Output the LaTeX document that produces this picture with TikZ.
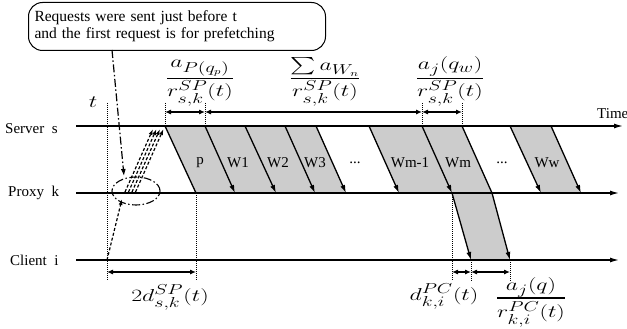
\documentclass[tikz,border=0pt]{standalone}
\usepackage{amsmath}
\usepackage{graphicx}
\usepackage{fontspec}
\setmainfont{Liberation Serif}
\usetikzlibrary{arrows.meta,shapes.geometric}
\newcommand\mytdots{...}
\newcommand\mywide[1]{\scalebox{1.38}[1]{#1}}
\begin{document}
\begin{tikzpicture}[x=1pt,y=-1pt,
  tl/.style={line width=1.3pt,-{Latex[length=9pt,width=5pt]}},
  ar/.style={line width=1.3pt,-{Latex[length=8pt,width=5pt]}},
  edg/.style={line width=1.3pt},
  dim/.style={line width=1.1pt,{Latex[length=6pt,width=5pt]}-{Latex[length=6pt,width=5pt]}},
  vdot/.style={densely dotted,line width=1pt},
  shd/.style={fill=black!20},
  lab/.style={font=\fontsize{15}{17}\selectfont,inner sep=0pt},
  mth/.style={font=\fontsize{19}{23}\selectfont,inner sep=0pt},
  dd/.style={line width=1.2pt,dash pattern=on 8pt off 2.5pt on 1.5pt off 2.5pt},
  req/.style={line width=1.2pt,dash pattern=on 3pt off 2pt,-{Latex[length=6pt,width=4pt]}}]
\useasboundingbox (0,0) rectangle (627,329);

% time lines
\coordinate (s0) at (76,126); \coordinate (s1) at (623,126);
\coordinate (p0) at (76,193); \coordinate (p1) at (619,193);
\coordinate (c0) at (76,260); \coordinate (c1) at (619,260);

% shaded parallelograms
\coordinate (A1) at (165,126); \coordinate (A2) at (316,126);
\coordinate (A3) at (346,193); \coordinate (A4) at (196,193);
\coordinate (B1) at (369,126); \coordinate (B2) at (462,126);
\coordinate (B3) at (492,193); \coordinate (B4) at (399,193);
\coordinate (L1) at (452,193); \coordinate (L2) at (492,193);
\coordinate (L3) at (510,260); \coordinate (L4) at (471,260);
\coordinate (C1) at (510,126); \coordinate (C2) at (551,126);
\coordinate (C3) at (581,193); \coordinate (C4) at (541,193);
\fill[shd] (A1) -- (A2) -- (A3) -- (A4) -- cycle;
\fill[shd] (B1) -- (B2) -- (B3) -- (B4) -- cycle;
\fill[shd] (L1) -- (L2) -- (L3) -- (L4) -- cycle;
\fill[shd] (C1) -- (C2) -- (C3) -- (C4) -- cycle;

\draw[tl] (s0) -- (s1);
\draw[tl] (p0) -- (p1);
\draw[tl] (c0) -- (c1);

% slanted transfer edges
\draw[edg] (A1) -- (A4);
\foreach \i/\a/\b in {1/205/235,2/245/276,3/285/315,4/316/346,5/369/399,6/422/452,7/510/541,8/551/581}{
  \coordinate (u\i) at (\a,126); \coordinate (v\i) at (\b,193);
  \draw[ar] (u\i) -- (v\i);
}
\draw[edg] (B2) -- (B3);
\draw[ar] (L1) -- (L4);
\draw[ar] (L2) -- (L3);

% labels on lines
\node[lab,anchor=west] (srv) at (5,129) {Server\ \ s};
\node[lab,anchor=west] (prx) at (8,193) {Proxy\ \ k};
\node[lab,anchor=west] (cli) at (10,260) {Client\ \ i};
\node[lab,anchor=base west] (tim) at (597,118) {Time};

% segment labels
\foreach \n/\x/\t in {np/200/p,nw1/238/W1,nw2/278/W2,nw3/315/W3,nd1/355/\mytdots,nwm1/410/Wm-1,nwm/458/Wm,nd2/502/\mytdots,nww/547/Ww}{
  \node[lab] (\n) at (\x,163) {\t};
}

% dotted verticals
\coordinate (t0) at (107,103); \coordinate (t1) at (107,281);
\draw[vdot] (t0) -- (t1);
\coordinate (d1a) at (165,103); \draw[vdot] (d1a) -- (A1);
\coordinate (d2a) at (205,103); \draw[vdot] (d2a) -- (u1);
\coordinate (d3a) at (422,103); \draw[vdot] (d3a) -- (u6);
\coordinate (d4a) at (462,103); \draw[vdot] (d4a) -- (B2);
\coordinate (e1a) at (196,281); \draw[vdot] (A4) -- (e1a);
\coordinate (e2a) at (452,281); \draw[vdot] (L1) -- (e2a);
\coordinate (e3a) at (471,281); \draw[vdot] (L4) -- (e3a);
\coordinate (e4a) at (510,281); \draw[vdot] (L3) -- (e4a);

% dimension arrows top
\coordinate (h1) at (165,112); \coordinate (h2) at (205,112);
\coordinate (h3) at (422,112); \coordinate (h4) at (462,112);
\draw[dim] (h1) -- (h2);
\draw[dim] (h2) -- (h3);
\draw[dim] (h3) -- (h4);
% dimension arrows bottom
\coordinate (g1) at (107,272); \coordinate (g2) at (196,272);
\coordinate (g3) at (452,272); \coordinate (g4) at (471,272);
\coordinate (g5) at (510,272);
\draw[dim] (g1) -- (g2);
\draw[dim] (g3) -- (g4);
\draw[dim] (g4) -- (g5);

% math labels
\node[mth,anchor=base] (tt) at (93,107) {\mywide{$t$}};
\node[mth,anchor=base] (f1) at (200,83) {\mywide{$\displaystyle\frac{a_{P(q_p)}}{r^{SP}_{s,k}(t)}$}};
\node[mth,anchor=base] (f2) at (325,83) {\mywide{$\displaystyle\frac{\sum a_{W_n}}{r^{SP}_{s,k}(t)}$}};
\node[mth,anchor=base] (f3) at (450,83) {\mywide{$\displaystyle\frac{a_j(q_w)}{r^{SP}_{s,k}(t)}$}};
\node[mth,anchor=base] (f4) at (170,301) {\mywide{$2d^{SP}_{s,k}(t)$}};
\node[mth,anchor=base] (f5) at (444,300) {\mywide{$d^{PC}_{k,i}(t)$}};
\node[mth,anchor=center] (f6) at (531,302) {\mywide{\renewcommand\arraystretch{0.85}\setlength\arrayrulewidth{1.4pt}%
  $\begin{array}{@{}c@{}}a_j(q)\\\hline \rule{0pt}{19pt}r^{PC}_{k,i}(t)\end{array}$}};

% callout box
\node[lab,draw,line width=1pt,rounded corners=14pt,minimum width=297pt,minimum height=48pt,
  align=left,text width=285pt,inner sep=0pt,anchor=north west] (box) at (28,2)
  {\fontsize{15.5}{17}\selectfont Requests were sent just before t\\and the first request is for prefetching};

% requests
\coordinate (cb) at (112,50); \coordinate (ce) at (124,176);
\draw[dd,-{Latex[length=7pt,width=5pt]}] (cb) -- (ce);
\node[draw,dd,line width=1.1pt,ellipse,minimum width=48pt,minimum height=28pt,inner sep=0pt] (ell) at (136,191) {};
\coordinate (ra) at (107,260); \coordinate (rb) at (122,199);
\draw[req] (ra) -- (rb);
\foreach \k in {0,1,2,3}{
  \coordinate (q\k a) at (125+3.5*\k,192); \coordinate (q\k b) at (153+3.5*\k,129);
  \draw[req] (q\k a) -- (q\k b);
}
\end{tikzpicture}
\end{document}
